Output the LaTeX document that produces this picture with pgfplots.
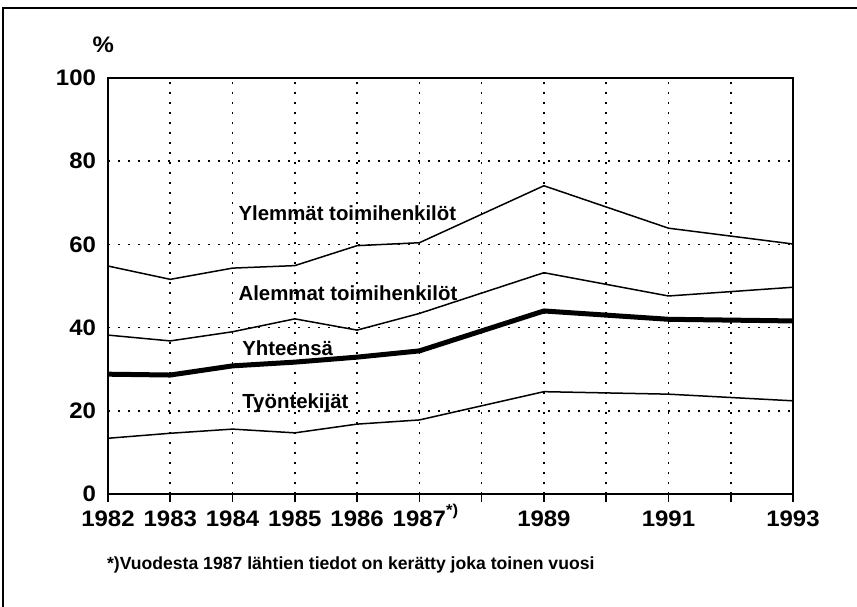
\documentclass[border=0pt]{standalone}
\usepackage{fontspec}
\setmainfont{Liberation Sans}
\newfontfamily\tickfont{Liberation Sans}[FakeStretch=1.07]
\usepackage{pgfplots}
\pgfplotsset{compat=1.18}
\begin{document}
\begin{tikzpicture}
\useasboundingbox (-54pt,-56pt) rectangle (374.5pt,247pt);
\draw[line width=0.8pt] (-52.5pt,-80pt) rectangle (390pt,243pt);
\begin{axis}[
  scale only axis,
  width=342.5pt, height=208pt,
  xmin=1982, xmax=1993, ymin=0, ymax=100,
  xtick={1982,1983,...,1993},
  xticklabels={1982,1983,1984,1985,1986,{1987\rlap{\smash{\raisebox{0.25ex}{\textsuperscript{*)}}}}},,1989,,1991,,1993},
  ytick={0,20,...,100},
  grid=major,
  major grid style={black, line width=0.8pt, dash pattern=on 0.8pt off 4.2pt},
  axis line style={black, line width=0.9pt},
  xtick pos=bottom, tick align=outside, major tick length=4pt,
  xtick style={black, line width=0.8pt},
  ytick style={draw=none},
  /pgf/number format/assume math mode=true,
  ticklabel style={font=\tickfont\bfseries\fontsize{11.2}{13}\selectfont},
  xticklabel style={yshift=-1pt},
  yticklabel style={xshift=1.5pt},
  clip=false,
]
\addplot[black, line width=0.75pt] coordinates {(1982,54.8) (1983,51.6) (1984,54.3) (1985,54.9) (1986,59.7) (1987,60.4) (1989,74.1) (1991,63.9) (1993,60.1)};
\addplot[black, line width=0.75pt] coordinates {(1982,38.2) (1983,36.8) (1984,39.0) (1985,42.1) (1986,39.4) (1987,43.4) (1989,53.2) (1991,47.6) (1993,49.7)};
\addplot[black, line width=2.5pt, line join=round] coordinates {(1982,28.8) (1983,28.6) (1984,30.8) (1985,31.7) (1986,32.9) (1987,34.4) (1989,44.0) (1991,42.0) (1993,41.6)};
\addplot[black, line width=0.75pt] coordinates {(1982,13.4) (1983,14.6) (1984,15.6) (1985,14.7) (1986,16.8) (1987,17.8) (1989,24.6) (1991,24.0) (1993,22.4)};
\node[anchor=west, inner sep=0pt, font=\bfseries\fontsize{10.2}{12}\selectfont] at (axis cs:1984.09,67.5) {Ylemmät toimihenkilöt};
\node[anchor=west, inner sep=0pt, font=\bfseries\fontsize{10.2}{12}\selectfont] at (axis cs:1984.09,48.2) {Alemmat toimihenkilöt};
\node[anchor=west, inner sep=0pt, font=\bfseries\fontsize{10.2}{12}\selectfont] at (axis cs:1984.15,35.0) {Yhteensä};
\node[anchor=west, inner sep=0pt, font=\bfseries\fontsize{10.2}{12}\selectfont] at (axis cs:1984.15,21.8) {Työntekijät};
\node[font=\tickfont\bfseries\fontsize{11.2}{13}\selectfont] at (rel axis cs:-0.007,1.08) {\%};
\end{axis}
\node[anchor=west, inner sep=0pt, font=\bfseries\fontsize{8.8}{10}\selectfont] at (-0.65pt,-35.5pt) {*)Vuodesta 1987 lähtien tiedot on kerätty joka toinen vuosi};
\end{tikzpicture}
\end{document}
